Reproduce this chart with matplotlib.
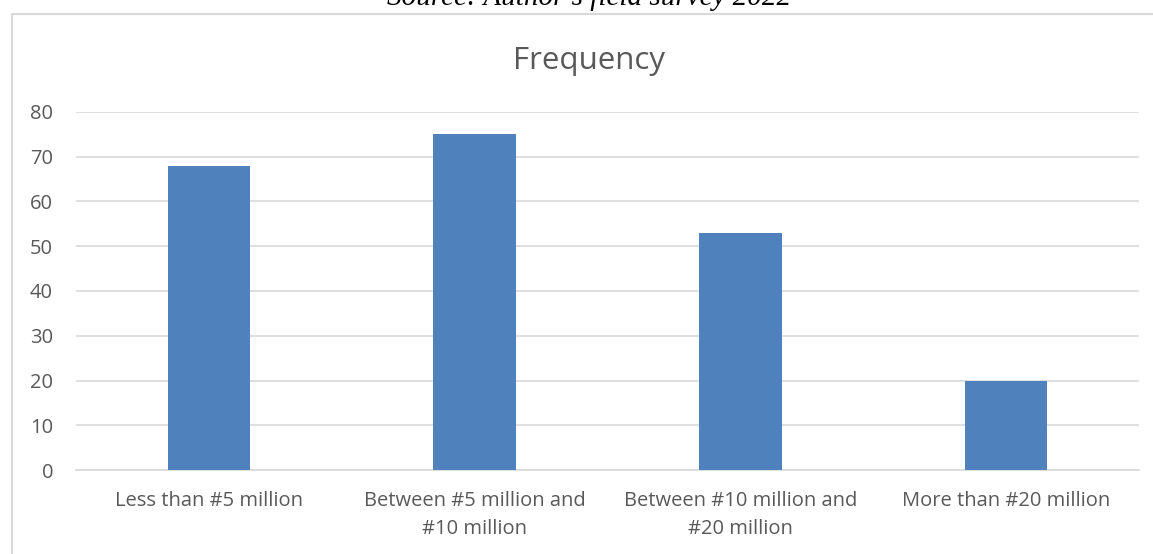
import matplotlib
matplotlib.use("Agg")
import matplotlib.pyplot as plt
from matplotlib.patches import Rectangle

categories = ["Less than #5 million", "Between #5 million and\n#10 million",
              "Between #10 million and\n#20 million", "More than #20 million"]
values = [68, 75, 53, 20]
yticks = [0, 10, 20, 30, 40, 50, 60, 70, 80]

W, H = 1153, 554
fig = plt.figure(figsize=(W/100, H/100), dpi=100)
fig.patch.set_facecolor("white")

# outer chart border
fig.patches.append(Rectangle((11.5/W, -0.1), 1.2, (H-13.5)/H + 0.1, transform=fig.transFigure,
                             fill=False, edgecolor="#d9d9d9", linewidth=1.5))

# clipped caption above
fig.text(589/W, 1 - 5/H, "Source: Author\u2019s field survey 2022", ha="center", va="baseline",
         family="Liberation Serif", style="italic", fontsize=21, color="black")

ax = fig.add_axes([76/W, 1 - 470/H, (1139-76)/W, (470-112)/H])
x = list(range(len(categories)))
ax.bar(x, values, width=0.31, color="#4f81bd", zorder=3)
ax.set_xlim(-0.5, len(categories) - 0.5)
ax.set_ylim(0, 80)
ax.set_yticks(yticks)
ax.set_xticks(x)
ax.set_xticklabels(categories, family="Open Sans", fontsize=14.5, color="#595959", linespacing=1.55)
ax.set_yticklabels([str(v) for v in yticks], family="Open Sans", fontsize=14.5, color="#595959")
ax.tick_params(axis="both", length=0)
ax.tick_params(axis="x", pad=15)
ax.tick_params(axis="y", pad=16.5)
ax.grid(axis="y", color="#d9d9d9", linewidth=1.2, zorder=0)
for s in ["top", "right", "left"]:
    ax.spines[s].set_visible(False)
ax.spines["bottom"].set_color("#d9d9d9")
ax.spines["bottom"].set_linewidth(1.2)

fig.text(589/W, 1 - 61/H, "Frequency", ha="center", va="center", family="Open Sans",
         fontsize=22.5, color="#595959")

fig.savefig("out.png", dpi=100, facecolor="white")
